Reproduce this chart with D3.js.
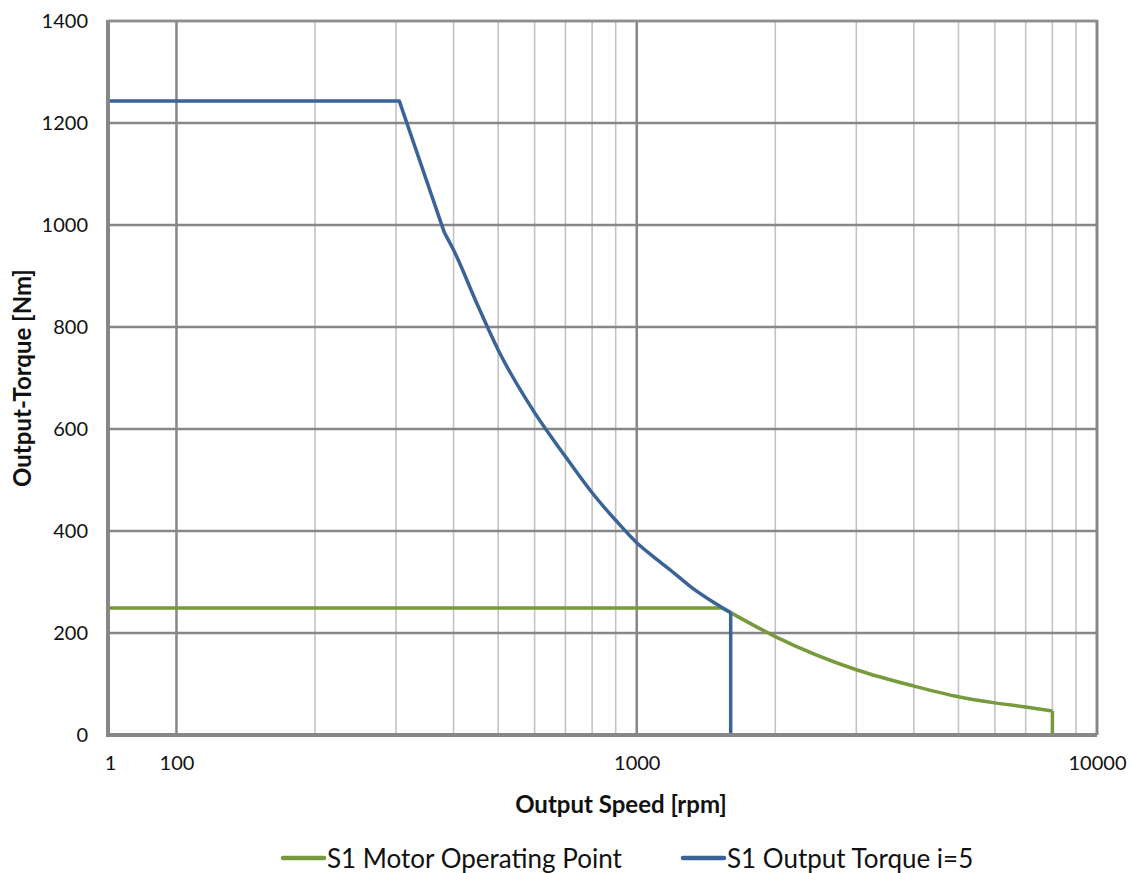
<!DOCTYPE html>
<html>
<head>
<meta charset="utf-8">
<script src="https://cdnjs.cloudflare.com/ajax/libs/d3/7.8.5/d3.min.js"></script>
<style>
    body { margin: 0; background: #fff; }
    text { font-family: Lato, "Open Sans", sans-serif; fill: #111; }
</style>
</head>
<body>
<div id="chart"></div>
<script>
// axis limits / ticks
var xMin = 71, xMax = 10000;
var xTickValues = [xMin, 100, 1000, 10000];
var xTickLabels = ["1", "100", "1000", "10000"];
var xMajorGrid = [100, 1000];
var xMinorGrid = [200, 300, 400, 500, 600, 700, 800, 900, 2000, 3000, 4000, 5000, 6000, 7000, 8000, 9000];
var yTickValues = [0, 200, 400, 600, 800, 1000, 1200, 1400];

// S1 Motor Operating Point (speed rpm, torque Nm)
var motorSpeed = [71, 1530, 1600, 2000, 3000, 4000, 5000, 6000, 7000, 8000, 8000];
var motorTorque = [249, 249, 240, 193, 128, 96, 75, 63, 55, 47, 0];

// S1 Output Torque i=5
var outSpeed = [71, 305, 382, 400, 450, 500, 600, 700, 800, 900, 1000, 1100, 1200, 1300, 1600, 1600];
var outTorque = [1243, 1243, 985, 951, 845, 755, 632, 546, 475, 421, 377, 346, 319, 293, 240, 0];

var seriesNames = ["S1 Motor Operating Point", "S1 Output Torque i=5"];
var seriesColors = ["#779a3d", "#3a6398"];

var margin = {top: 21, right: 41, bottom: 137, left: 108},
    totalW = 1138, totalH = 873,
    width = totalW - margin.left - margin.right,
    height = totalH - margin.top - margin.bottom - 1;

var svg = d3.select("#chart")
    .append("svg")
    .attr("width", totalW)
    .attr("height", totalH)
    .append("g")
    .attr("transform", "translate(" + margin.left + "," + margin.top + ")");

var x = d3.scaleLog().domain([xMin, xMax]).range([0, width]);
var y = d3.scaleLinear().domain([0, 1400]).range([height, 0]);

// minor vertical grid
svg.selectAll(".minor")
    .data(xMinorGrid)
    .enter().append("line")
    .attr("x1", function (d) { return x(d); })
    .attr("x2", function (d) { return x(d); })
    .attr("y1", 0)
    .attr("y2", height)
    .attr("stroke", "#c3c3c3")
    .attr("stroke-width", 1.6);

// major vertical grid
svg.selectAll(".majorx")
    .data(xMajorGrid)
    .enter().append("line")
    .attr("x1", function (d) { return x(d); })
    .attr("x2", function (d) { return x(d); })
    .attr("y1", 0)
    .attr("y2", height)
    .attr("stroke", "#878787")
    .attr("stroke-width", 2.5);

// horizontal grid
svg.selectAll(".majory")
    .data(yTickValues.slice(1))
    .enter().append("line")
    .attr("x1", 0)
    .attr("x2", width)
    .attr("y1", function (d) { return y(d); })
    .attr("y2", function (d) { return y(d); })
    .attr("stroke", "#878787")
    .attr("stroke-width", 2.5);

// right border
svg.append("line")
    .attr("x1", width).attr("x2", width)
    .attr("y1", -1).attr("y2", height)
    .attr("stroke", "#878787")
    .attr("stroke-width", 3);

// lines: straight pieces plus a smoothed middle part (like excel smoothed lines)
var straight = d3.line()
    .x(function (d) { return x(d[0]); })
    .y(function (d) { return y(d[1]); });
var smooth = d3.line()
    .curve(d3.curveMonotoneX)
    .x(function (d) { return x(d[0]); })
    .y(function (d) { return y(d[1]); });

function drawSeries(speed, torque, color, smoothFrom, smoothTo) {
    var data = speed.map(function (s, i) { return [s, torque[i]]; });
    var pieces = [
        straight(data.slice(0, smoothFrom + 1)),
        smooth(data.slice(smoothFrom, smoothTo + 1)),
        straight(data.slice(smoothTo))
    ];
    svg.append("path")
        .attr("d", pieces.join(""))
        .attr("fill", "none")
        .attr("stroke", color)
        .attr("stroke-width", 3.5)
        .attr("stroke-linejoin", "round");
}

drawSeries(motorSpeed, motorTorque, seriesColors[0], 2, 9);
drawSeries(outSpeed, outTorque, seriesColors[1], 2, 14);

// Y axis
var yAxis = d3.axisLeft(y)
    .tickValues(yTickValues)
    .tickFormat(d3.format("d"))
    .tickSize(0)
    .tickPadding(20);

var gy = svg.append("g")
    .call(yAxis);
gy.select(".domain").attr("stroke", "#878787").attr("stroke-width", 4).attr("d", "M0,-1V" + (height + 2));
gy.selectAll("text").style("font-size", "20px").attr("fill", "#111");

// X axis
var xAxis = d3.axisBottom(x)
    .tickValues(xTickValues)
    .tickFormat(function (d, i) { return xTickLabels[i]; })
    .tickSize(0)
    .tickPadding(21);

var gx = svg.append("g")
    .attr("transform", "translate(0," + height + ")")
    .call(xAxis);
gx.select(".domain").attr("stroke", "#878787").attr("stroke-width", 4).attr("d", "M-2,0H" + width);
gx.selectAll("text").style("font-size", "20px").attr("fill", "#111");
gx.selectAll(".tick").filter(function (d, i) { return i === 0; })
    .select("text").attr("dx", 2);

// top border
svg.append("line")
    .attr("x1", 0).attr("x2", width)
    .attr("y1", 0).attr("y2", 0)
    .attr("stroke", "#8f8f8f")
    .attr("stroke-width", 2.5);

// axis titles
svg.append("text")
    .attr("x", 513)
    .attr("y", height + 78)
    .attr("text-anchor", "middle")
    .style("font-size", "24px")
    .style("font-weight", "bold")
    .text("Output Speed [rpm]");

svg.append("text")
    .attr("transform", "rotate(-90)")
    .attr("x", -height / 2)
    .attr("y", -77)
    .attr("text-anchor", "middle")
    .style("font-size", "24px")
    .style("font-weight", "bold")
    .text("Output-Torque [Nm]");

// legend
var legendX = [175, 575];
var legend = svg.selectAll(".legend")
    .data(seriesNames)
    .enter().append("g")
    .attr("transform", function (d, i) { return "translate(" + legendX[i] + "," + (height + 123) + ")"; });

legend.append("line")
    .attr("x1", 0).attr("x2", 41)
    .attr("y1", 0).attr("y2", 0)
    .attr("stroke", function (d, i) { return seriesColors[i]; })
    .attr("stroke-width", 4.5)
    .attr("stroke-linecap", "round");

legend.append("text")
    .attr("x", 44)
    .attr("y", 10)
    .style("font-size", "26px")
    .text(function (d) { return d; });
</script>
</body>
</html>
